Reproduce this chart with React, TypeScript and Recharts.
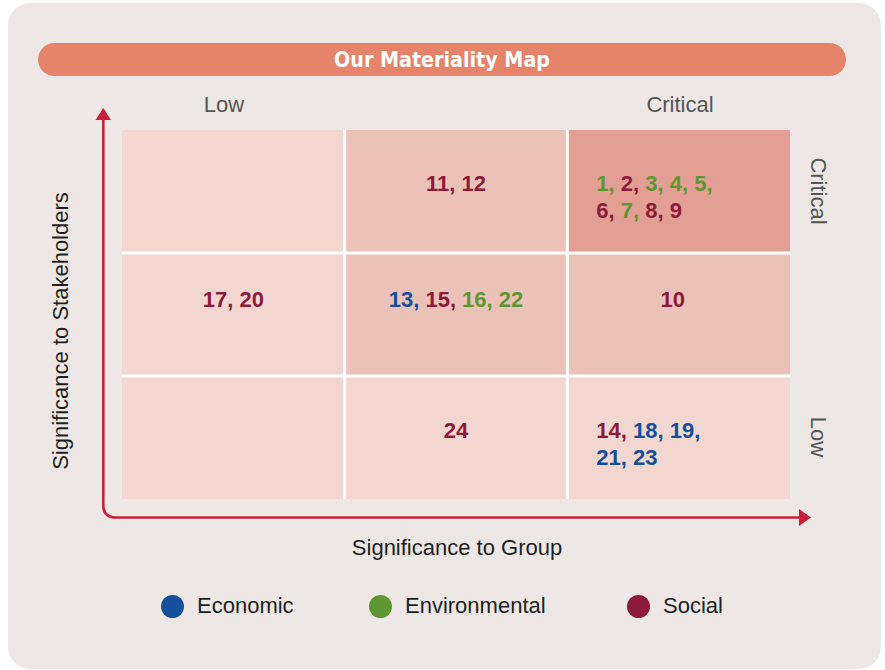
import { Label, Legend, ReferenceArea, ReferenceLine, Scatter, ScatterChart, XAxis, YAxis } from "recharts"

const levels = ["Low", "Medium", "Critical"]

const economic = [13, 18, 19, 21, 23]
const environmental = [1, 3, 4, 5, 7, 16, 22]
const social = [2, 6, 8, 9, 10, 11, 12, 14, 15, 17, 20, 24]

// col = significance to group, row = significance to stakeholders (0 = low)
const cellCols = [0, 1, 2, 0, 1, 2, 0, 1, 2]
const cellRows = [2, 2, 2, 1, 1, 1, 0, 0, 0]
const cellShade = [0, 1, 2, 0, 1, 1, 0, 0, 0]
const cellLines = [
  [],
  [[11, 12]],
  [[1, 2, 3, 4, 5], [6, 7, 8, 9]],
  [[17, 20]],
  [[13, 15, 16, 22]],
  [[10]],
  [],
  [[24]],
  [[14, 18, 19], [21, 23]],
]

const categories = [
  { name: "Economic", color: "#134f9a", items: economic },
  { name: "Environmental", color: "#5e9632", items: environmental },
  { name: "Social", color: "#8e1a3a", items: social },
]

const shades = ["#f3d6d0", "#ecc1b8", "#e39f93"]
const FONT = "'Liberation Sans', Arial, sans-serif"

const cellData = cellCols.map((c, i) => ({ x: c, y: cellRows[i], lines: cellLines[i] }))

function colorOf(n: number) {
  const c = categories.find((k) => k.items.includes(n))
  return c ? c.color : "#333"
}

// first baseline offset per row (bottom, middle, top)
const baseOffset = [62, 54, 61]

function CellText(props: any) {
  const { viewBox, lines, row, col } = props
  if (!viewBox || !lines || !lines.length) return null
  const multi = lines.length > 1
  const x = multi ? viewBox.x + 29 : viewBox.x + viewBox.width / 2 - (row === 1 && col === 2 ? 6 : 0)
  return (
    <text
      x={x}
      y={viewBox.y + baseOffset[row]}
      textAnchor={multi ? "start" : "middle"}
      fontFamily={FONT}
      fontWeight="bold"
      fontSize={22}
    >
      {lines.map((line: number[], li: number) =>
        line.map((n, i) => {
          const last = li === lines.length - 1 && i === line.length - 1
          const sep = i < line.length - 1 ? ", " : last ? "" : ","
          return (
            <tspan
              key={li + "-" + i}
              x={i === 0 ? x : undefined}
              dy={i === 0 && li > 0 ? 27 : undefined}
              fill={colorOf(n)}
            >
              {n + sep}
            </tspan>
          )
        })
      )}
    </text>
  )
}

function LegendContent() {
  const lefts = [161, 369, 627]
  return (
    <div style={{ position: "relative", height: 30 }}>
      {categories.map((c, i) => (
        <div
          key={c.name}
          style={{ position: "absolute", left: lefts[i], top: 0, display: "flex", alignItems: "center" }}
        >
          <span style={{ width: 23, height: 23, borderRadius: "50%", background: c.color, display: "inline-block" }} />
          <span style={{ marginLeft: 13, fontFamily: FONT, fontSize: 22, color: "#1e1e1e" }}>{c.name}</span>
        </div>
      ))}
    </div>
  )
}

export default function App() {
  return (
    <div style={{ position: "absolute", left: 0, top: 0, width: 885, height: 670, background: "#fff" }}>
      <div
        style={{
          position: "absolute",
          left: 8,
          top: 3,
          width: 873,
          height: 666,
          background: "#ede8e5",
          borderRadius: 22,
        }}
      />
      <div style={{ position: "absolute", left: 0, top: 0 }}>
        <ScatterChart width={885} height={670} margin={{ top: 130, right: 95, bottom: 141, left: 122 }}>
          <XAxis type="number" dataKey="x" domain={[0, 3]} allowDataOverflow hide />
          <YAxis type="number" dataKey="y" domain={[0, 3]} allowDataOverflow hide />
          {cellCols.map((c, i) => (
            <ReferenceArea
              key={i}
              x1={c}
              x2={c + 1}
              y1={cellRows[i]}
              y2={cellRows[i] + 1}
              fill={shades[cellShade[i]]}
              fillOpacity={1}
              stroke="none"
            >
              <Label content={(p: any) => <CellText {...p} lines={cellLines[i]} row={cellRows[i]} col={c} />} />
            </ReferenceArea>
          ))}
          {[1, 2].map((v) => (
            <ReferenceLine key={"x" + v} x={v} stroke="#fff" strokeWidth={3} />
          ))}
          {[1, 2].map((v) => (
            <ReferenceLine key={"y" + v} y={v} stroke="#fff" strokeWidth={3} />
          ))}
          <Scatter
            name="cells"
            data={cellData}
            legendType="none"
            shape={() => <g />}
            isAnimationActive={false}
          />
          {categories.map((c) => (
            <Scatter
              key={c.name}
              name={c.name}
              data={[]}
              fill={c.color}
              legendType="circle"
              isAnimationActive={false}
            />
          ))}
          <Legend
            verticalAlign="bottom"
            content={() => <LegendContent />}
            wrapperStyle={{ left: 0, top: 593, width: 885 }}
          />
        </ScatterChart>
      </div>
      <svg width={885} height={670} style={{ position: "absolute", left: 0, top: 0, pointerEvents: "none" }}>
        <rect x={38} y={43} width={808} height={33} rx={16.5} fill="#e5836b" />
        <text
          x={442}
          y={67}
          textAnchor="middle"
          fill="#fff"
          fontFamily="'Liberation Sans Narrow', 'DejaVu Sans Condensed', sans-serif"
          fontWeight="bold"
          fontSize={22}
          textLength={216}
          lengthAdjust="spacingAndGlyphs"
        >
          Our Materiality Map
        </text>
        <text x={224} y={112} textAnchor="middle" fill="#555" fontFamily={FONT} fontSize={22}>
          {levels[0]}
        </text>
        <text x={680} y={112} textAnchor="middle" fill="#555" fontFamily={FONT} fontSize={22}>
          {levels[2]}
        </text>
        <text
          transform="translate(811,191) rotate(90)"
          textAnchor="middle"
          fill="#555"
          fontFamily={FONT}
          fontSize={22}
        >
          {levels[2]}
        </text>
        <text
          transform="translate(811,437) rotate(90)"
          textAnchor="middle"
          fill="#555"
          fontFamily={FONT}
          fontSize={22}
        >
          {levels[0]}
        </text>
        <text x={457} y={555} textAnchor="middle" fill="#1e1e1e" fontFamily={FONT} fontSize={22}>
          Significance to Group
        </text>
        <text
          transform="translate(68,331) rotate(-90)"
          textAnchor="middle"
          fill="#1e1e1e"
          fontFamily={FONT}
          fontSize={22}
        >
          Significance to Stakeholders
        </text>
        <path
          d="M103.3 118 L103.3 505 Q103.3 517.5 115.8 517.5 L800 517.5"
          fill="none"
          stroke="#c8203a"
          strokeWidth={2.6}
        />
        <path d="M103.3 108 L95.5 120 L111 120 Z" fill="#c8203a" />
        <path d="M811 517.5 L799 509 L799 526 Z" fill="#c8203a" />
      </svg>
    </div>
  )
}
